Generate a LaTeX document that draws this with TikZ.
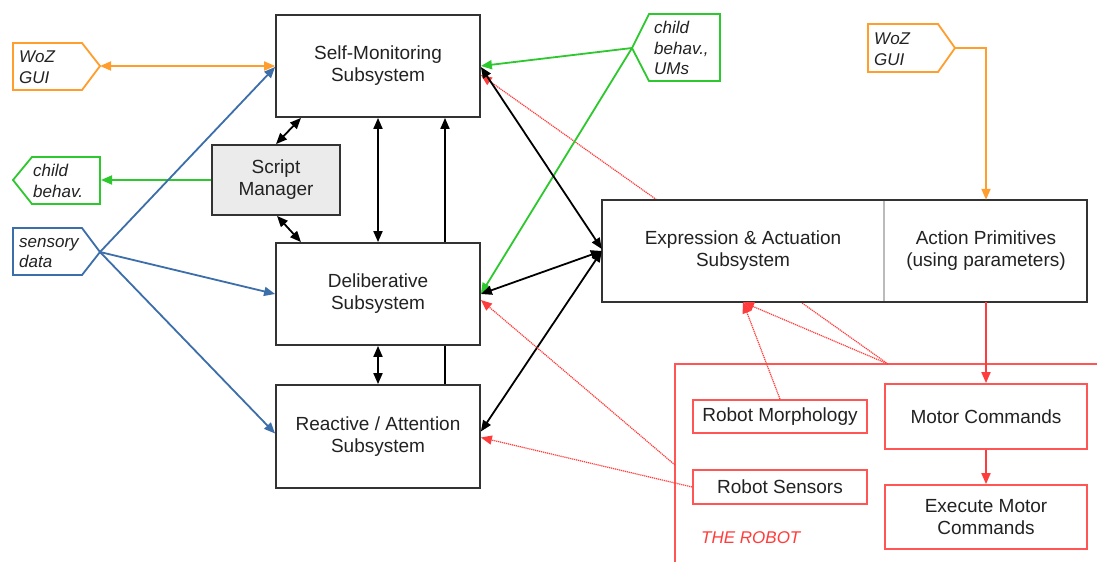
\documentclass[tikz,border=0pt]{standalone}
\usepackage{fontspec}
\setmainfont{Liberation Sans}
\usetikzlibrary{arrows.meta,calc}
\pgfdeclarelayer{back}
\pgfsetlayers{back,main}
\definecolor{boxc}{HTML}{333333}
\definecolor{txtc}{HTML}{222222}
\definecolor{orng}{RGB}{255,158,45}
\definecolor{grn}{RGB}{45,200,45}
\definecolor{blu}{RGB}{60,110,170}
\definecolor{redb}{RGB}{255,85,85}
\definecolor{redl}{RGB}{255,60,60}
\definecolor{grayfill}{HTML}{EBEBEB}
\definecolor{divc}{HTML}{BBBBBB}
\tikzset{
  box/.style={draw=boxc, line width=1.8pt, fill=white, text=txtc, align=center,
    font=\fontsize{19}{22}\selectfont, inner sep=0pt},
  rbox/.style={draw=redb, line width=1.8pt, fill=white, text=txtc, align=center,
    font=\fontsize{19}{22}\selectfont, inner sep=0pt},
  plainbox/.style={text=txtc, align=center, font=\fontsize{19}{22}\selectfont, inner sep=0pt},
  lbl/.style={anchor=west, align=left, text=txtc, inner sep=0pt,
    font=\fontsize{17}{20.5}\selectfont\itshape},
  >={Triangle[length=11pt,width=9pt]},
  blk/.style={draw=black, line width=1.8pt},
  ora/.style={draw=orng, line width=1.8pt},
  gre/.style={draw=grn, line width=1.8pt},
  bluc/.style={draw=blu, line width=1.8pt},
  redc/.style={draw=redl, line width=1.8pt},
  reddot/.style={draw=redl, line width=1.2pt, dash pattern=on 1.2pt off 0.8pt},
}
\begin{document}
\begin{tikzpicture}[x=1pt,y=-1pt]
\useasboundingbox (0,0) rectangle (1097,562);
\begin{pgfonlayer}{back}
\fill[white] (0,0) rectangle (1097,562);
\end{pgfonlayer}

% robot region
\draw[draw=redb, line width=1.8pt] (675,562) -- (675,364) -- (1097,364);
\coordinate (robtop) at (888,364);
\coordinate (robleft) at (675,465);
\node[text=redl, font=\fontsize{17}{20}\selectfont\itshape, anchor=west, inner sep=0pt] (robot) at (701,538) {THE ROBOT};

% main boxes
\node[box, minimum width=204pt, minimum height=102pt] (sm) at (378,66) {Self-Monitoring\\Subsystem};
\node[box, minimum width=128pt, minimum height=70pt, fill=grayfill] (scm) at (276,180) {Script\\Manager};
\node[box, minimum width=204pt, minimum height=102pt] (del) at (378,294) {Deliberative\\Subsystem};
\node[box, minimum width=204pt, minimum height=103pt] (rea) at (378,436.5) {Reactive / Attention\\Subsystem};

% expression / action primitives
\fill[white] (602,200) rectangle (1087,302);
\node[plainbox, minimum width=282pt, minimum height=102pt] (exa) at (743,251) {Expression \& Actuation\\Subsystem};
\node[plainbox, minimum width=202pt, minimum height=102pt] (ap) at (986,251) {Action Primitives\\(using parameters)};
\draw[draw=boxc, line width=1.8pt] (exa.north west) rectangle (ap.south east);
\draw[draw=divc, line width=1.8pt] ([yshift=-1]exa.north east) -- ([yshift=1]exa.south east);

% robot boxes
\node[rbox, minimum width=174pt, minimum height=33pt] (rm) at (780,416.5) {Robot Morphology};
\node[rbox, minimum width=174pt, minimum height=34pt] (rs) at (780,487) {Robot Sensors};
\node[rbox, minimum width=202pt, minimum height=65pt] (mc) at (986,416.5) {Motor Commands};
\node[rbox, minimum width=202pt, minimum height=64pt] (emc) at (986,517) {Execute Motor\\Commands};

% pentagon labels
\draw[ora, fill=white] (13,43) -- (82,43) -- (100,66) -- (82,90) -- (13,90) -- cycle;
\coordinate (wozLtip) at (100,66);
\node[lbl] (wozL) at (19,67) {WoZ\\GUI};

\draw[gre, fill=white] (13,180) -- (32,157) -- (100,157) -- (100,204) -- (32,204) -- cycle;
\coordinate (chLedge) at (101,180);
\node[lbl] (chL) at (33,181) {child\\behav.};

\draw[bluc, fill=white] (13,228) -- (82,228) -- (100,252) -- (82,275) -- (13,275) -- cycle;
\coordinate (senstip) at (100,252);
\node[lbl] (sens) at (19,253) {sensory\\data};

\draw[gre, fill=white] (632,48) -- (649,14) -- (720,14) -- (720,81) -- (649,81) -- cycle;
\coordinate (chRtip) at (632,48);
\node[lbl] (chR) at (654,48) {child\\behav.,\\UMs};

\draw[ora, fill=white] (868,24) -- (938,24) -- (955,48) -- (938,72) -- (868,72) -- cycle;
\coordinate (wozRtip) at (955,48);
\node[lbl] (wozR) at (874,49) {WoZ\\GUI};

% long dotted line behind the expression box
\begin{pgfonlayer}{back}
\draw[reddot, ->] (robtop) -- ([yshift=-9]sm.east);
\end{pgfonlayer}

% connectors
\draw[ora, <->] (wozLtip) -- (sm.west);
\draw[ora, ->] (wozRtip) -| (ap.north);
\draw[gre, ->] (scm.west) -- (chLedge);
\draw[gre, ->] (chRtip) -- (sm.east);
\draw[gre, ->] (chRtip) -- (del.east);
\draw[bluc, ->] (senstip) -- ([yshift=-1]sm.west);
\draw[bluc, ->] (senstip) -- (del.west);
\draw[bluc, ->] (senstip) -- ([yshift=3]rea.west);

\draw[blk, <->] ([xshift=-77]sm.south) -- (scm.north);
\draw[blk, <->] ([xshift=1]scm.south) -- ([xshift=-77]del.north);
\draw[blk, <->] (sm.south) -- (del.north);
\draw[blk, ->] ([xshift=67]del.north) -- ([xshift=67]sm.south);
\draw[blk, <->] (del.south) -- (rea.north);
\draw[blk] ([xshift=67]rea.north) -- ([xshift=67]del.south);
\draw[blk, <->] ([yshift=-1]sm.east) -- ([yshift=2]exa.west);
\draw[blk, <->] (del.east) -- (exa.west);
\draw[blk, <->] ([yshift=5]rea.east) -- (exa.west);

\draw[reddot, ->] (robtop) -- (exa.south);
\draw[reddot, ->] (rm.north) -- (exa.south);
\draw[reddot, ->] (robleft) -- ([yshift=-6]del.east);
\draw[reddot, ->] (rs.west) -- ([yshift=-1]rea.east);

\draw[redc, ->] (ap.south) -- (mc.north);
\draw[redc, ->] (mc.south) -- (emc.north);
\end{tikzpicture}
\end{document}
